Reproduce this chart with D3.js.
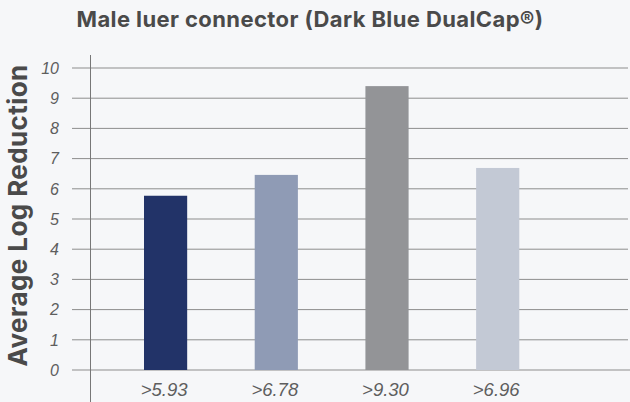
<!DOCTYPE html>
<html><head><meta charset="utf-8">
<script src="https://cdn.jsdelivr.net/npm/d3@7"></script>
<style>body{margin:0;background:#f6f7f9;}svg{display:block;}</style>
</head><body>
<svg id="chart" width="630" height="402"></svg>
<script>
const categories = ["A", "B", "C", "D"];
const values = [5.77, 6.46, 9.4, 6.69];
const barLabels = [">5.93", ">6.78", ">9.30", ">6.96"];
const colors = ["#223368", "#8f9bb5", "#939497", "#c3c9d5"];
const yTicks = [0,1,2,3,4,5,6,7,8,9,10];
const title = "Male luer connector (Dark Blue DualCap®)";
const yTitle = "Average Log Reduction";

const svg = d3.select("#chart");
const font = "Inter, 'Liberation Sans', Arial, sans-serif";
const tickFont = "'Liberation Sans', Arial, sans-serif";
svg.append("rect").attr("width",630).attr("height",402).attr("fill","#f6f7f9");

const y = d3.scaleLinear().domain([0,10]).range([370, 68]);
const x = d3.scaleBand().domain(categories).range([144, 519.3]).paddingInner(0.61).paddingOuter(0);

// gridlines
svg.append("g").selectAll("line").data(yTicks).join("line")
  .attr("x1", 72).attr("x2", d => d === 0 ? 630 : 628)
  .attr("y1", d => y(d)).attr("y2", d => y(d))
  .attr("stroke", "#8d8d8d").attr("stroke-width", 1);

// tick labels
svg.append("g").selectAll("text").data(yTicks).join("text")
  .attr("x", 59).attr("y", d => y(d)).attr("dy", "0.36em")
  .attr("text-anchor", "end").attr("font-family", tickFont).attr("font-style", "italic")
  .attr("font-size", 16).attr("fill", "#5e5e5e").text(d => d);

// bars
svg.append("g").selectAll("rect").data(values).join("rect")
  .attr("x", (d,i) => x(categories[i])).attr("width", x.bandwidth())
  .attr("y", d => y(d)).attr("height", d => y(0) - y(d))
  .attr("fill", (d,i) => colors[i]);

// y axis line
svg.append("line").attr("x1", 90.5).attr("x2", 90.5).attr("y1", 55).attr("y2", 402)
  .attr("stroke", "#777").attr("stroke-width", 1);

// x labels
svg.append("g").selectAll("text").data(barLabels).join("text")
  .attr("x", (d,i) => x(categories[i]) + x.bandwidth()/2 - 1.5).attr("y", 396)
  .attr("text-anchor", "middle").attr("font-family", tickFont).attr("font-style", "italic")
  .attr("font-size", 18.5).attr("fill", "#5e5e5e").text(d => d);

// title
svg.append("text").attr("x", 310).attr("y", 27).attr("text-anchor", "middle")
  .attr("font-family", font).attr("font-weight", "bold").attr("font-size", 22)
  .attr("letter-spacing", 0.4)
  .attr("fill", "#4a4a4a").text(title);

// y title
svg.append("text").attr("transform", "translate(27,215.5) rotate(-90)")
  .attr("text-anchor", "middle").attr("font-family", font).attr("font-weight", "bold")
  .attr("font-size", 26).attr("letter-spacing", 0.4).attr("fill", "#4a4a4a").text(yTitle);
</script>
</body></html>
